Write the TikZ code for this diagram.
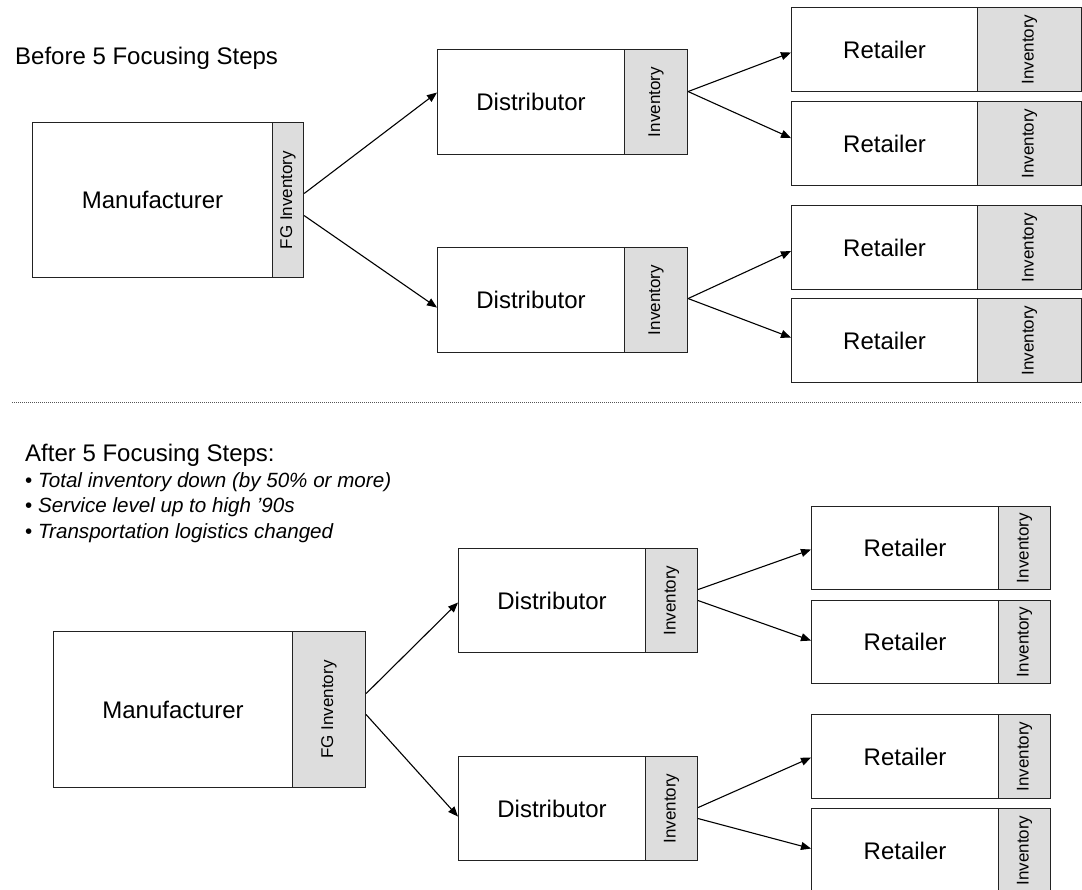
\documentclass[tikz,border=0pt]{standalone}
\usepackage{fontspec}
\setmainfont{Liberation Sans}
\usepackage{graphicx}
\usetikzlibrary{arrows.meta,calc}
\definecolor{invgray}{HTML}{DDDDDD}
\definecolor{edgec}{HTML}{222222}
\definecolor{dotc}{HTML}{555555}
\tikzset{
  box/.style={draw=edgec, line width=1.1pt, fill=white, inner sep=0pt, anchor=north west,
    font=\fontsize{24}{28}\selectfont},
  inv/.style={draw=edgec, line width=1.1pt, fill=invgray, inner sep=0pt, anchor=north west,
    font=\fontsize{17}{20}\selectfont},
  flow/.style={draw=black, line width=1.1pt, -{Triangle[length=10pt,width=8pt]}},
  title/.style={anchor=base west, inner sep=0pt, font=\fontsize{24}{28}\selectfont},
  bullet/.style={anchor=base west, inner sep=0pt, font=\fontsize{20.6}{24}\selectfont},
  dotline/.style={draw=dotc, line width=0.9pt, dash pattern=on 1pt off 1pt},
}
\begin{document}
\begin{tikzpicture}[x=1pt,y=-1pt]
\useasboundingbox (0,0) rectangle (1082,890);

% ---------------- Before ----------------
\node[title] (t1) at (15,65) {Before 5 Focusing Steps};

\node[box, minimum width=240pt, minimum height=155pt] (m1) at (32,122) {Manufacturer};
\node[inv, minimum width=31pt, minimum height=155pt] (m1i) at (272,122) {\rotatebox{90}{FG Inventory}};

\node[box, minimum width=187pt, minimum height=105pt] (d1) at (437,49) {Distributor};
\node[inv, minimum width=63pt, minimum height=105pt] (d1i) at (624,49) {\rotatebox{90}{Inventory}};
\node[box, minimum width=187pt, minimum height=105pt] (d2) at (437,247) {Distributor};
\node[inv, minimum width=63pt, minimum height=105pt] (d2i) at (624,247) {\rotatebox{90}{Inventory}};

\node[box, minimum width=186pt, minimum height=84pt] (r1) at (791,7) {Retailer};
\node[inv, minimum width=104pt, minimum height=84pt] (r1i) at (977,7) {\rotatebox{90}{Inventory}};
\node[box, minimum width=186pt, minimum height=84pt] (r2) at (791,101) {Retailer};
\node[inv, minimum width=104pt, minimum height=84pt] (r2i) at (977,101) {\rotatebox{90}{Inventory}};
\node[box, minimum width=186pt, minimum height=84pt] (r3) at (791,205) {Retailer};
\node[inv, minimum width=104pt, minimum height=84pt] (r3i) at (977,205) {\rotatebox{90}{Inventory}};
\node[box, minimum width=186pt, minimum height=84pt] (r4) at (791,298) {Retailer};
\node[inv, minimum width=104pt, minimum height=84pt] (r4i) at (977,298) {\rotatebox{90}{Inventory}};

\draw[flow] ([yshift=6.5pt]m1i.east) -- ([yshift=9.5pt]d1.west);
\draw[flow] ([yshift=-15.5pt]m1i.east) -- ([yshift=-7.5pt]d2.west);
\draw[flow] ([yshift=10.5pt]d1i.east) -- ([yshift=-3pt]r1.west);
\draw[flow] ([yshift=10.5pt]d1i.east) -- ([yshift=5.5pt]r2.west);
\draw[flow] ([yshift=1.5pt]d2i.east) -- ([yshift=-3.5pt]r3.west);
\draw[flow] ([yshift=1.5pt]d2i.east) -- ([yshift=3pt]r4.west);

% ---------------- separator ----------------
\coordinate (sepL) at (12,402);
\coordinate (sepR) at (1082,402);
\draw[dotline] (sepL) -- (sepR);

% ---------------- After ----------------
\node[title] (t2) at (25,461) {After 5 Focusing Steps:};
\node[bullet] (b1) at (25,487) {• \textit{Total inventory down (by 50\% or more)}};
\node[bullet] (b2) at (25,512.5) {• \textit{Service level up to high ’90s}};
\node[bullet] (b3) at (25,538) {• \textit{Transportation logistics changed}};

\node[box, minimum width=239pt, minimum height=156pt] (m2) at (53,631) {Manufacturer};
\node[inv, minimum width=73pt, minimum height=156pt] (m2i) at (292,631) {\rotatebox{90}{FG Inventory}};

\node[box, minimum width=187pt, minimum height=104pt] (d3) at (458,548) {Distributor};
\node[inv, minimum width=52pt, minimum height=104pt] (d3i) at (645,548) {\rotatebox{90}{Inventory}};
\node[box, minimum width=187pt, minimum height=104pt] (d4) at (458,756) {Distributor};
\node[inv, minimum width=52pt, minimum height=104pt] (d4i) at (645,756) {\rotatebox{90}{Inventory}};

\node[box, minimum width=187pt, minimum height=83pt] (r5) at (811,506) {Retailer};
\node[inv, minimum width=52pt, minimum height=83pt] (r5i) at (998,506) {\rotatebox{90}{Inventory}};
\node[box, minimum width=187pt, minimum height=83pt] (r6) at (811,600) {Retailer};
\node[inv, minimum width=52pt, minimum height=83pt] (r6i) at (998,600) {\rotatebox{90}{Inventory}};
\node[box, minimum width=187pt, minimum height=84pt] (r7) at (811,714) {Retailer};
\node[inv, minimum width=52pt, minimum height=84pt] (r7i) at (998,714) {\rotatebox{90}{Inventory}};
\node[box, minimum width=187pt, minimum height=84pt] (r8) at (811,808) {Retailer};
\node[inv, minimum width=52pt, minimum height=84pt] (r8i) at (998,808) {\rotatebox{90}{Inventory}};

\draw[flow] ([yshift=16pt]m2i.east) -- ([yshift=-2pt]d3.west);
\draw[flow] ([yshift=-5pt]m2i.east) -- ([yshift=-8pt]d4.west);
\draw[flow] ([yshift=11pt]d3i.east) -- ([yshift=-1.5pt]r5.west);
\draw[flow] (d3i.east) -- ([yshift=1.5pt]r6.west);
\draw[flow] ([yshift=1pt]d4i.east) -- ([yshift=-1pt]r7.west);
\draw[flow] ([yshift=-10pt]d4i.east) -- ([yshift=2pt]r8.west);
\end{tikzpicture}
\end{document}
